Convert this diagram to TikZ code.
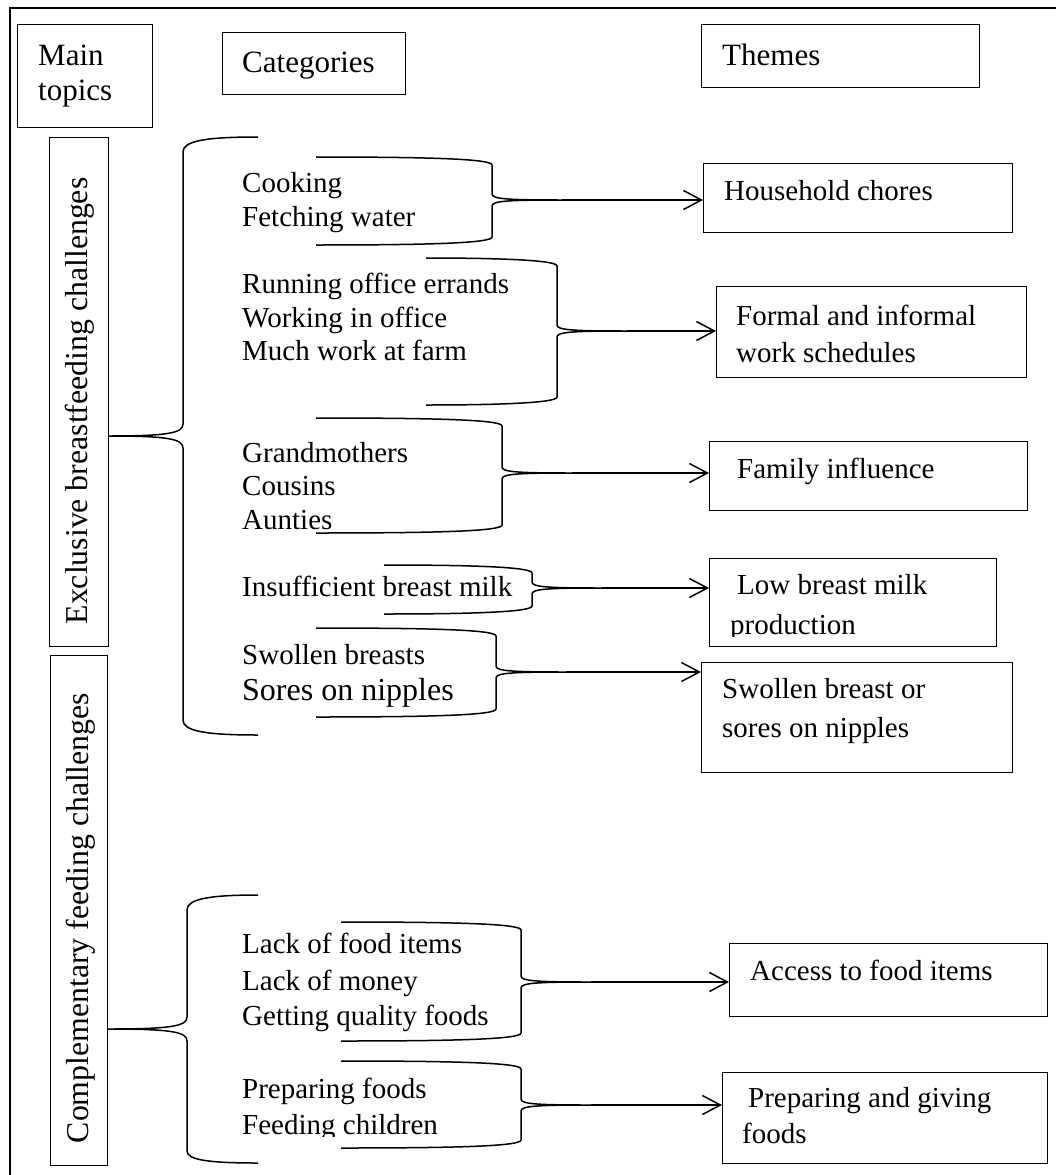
\documentclass[tikz,border=0pt]{standalone}
\usepackage{fontspec}
\setmainfont{Liberation Serif}
\usetikzlibrary{arrows.meta}
\newcommand{\fsz}[1]{\fontsize{#1}{#1}\selectfont}

% right-facing brace that gathers a list of categories into one point
% #1 name of the point, #2 left tips x, #3 spine x, #4 top y, #5 middle y, #6 bottom y
\newcommand{\subbrace}[6]{%
  \coordinate (#1) at (#3+70,#5);
  \draw[br] (#2,#4) .. controls (#3-60,#4) and (#3,#4+2) .. (#3,#4+8)
     -- (#3,#5-6) .. controls (#3,#5-1) and (#3+15,#5) .. (#1)
     .. controls (#3+15,#5) and (#3,#5+1) .. (#3,#5+6)
     -- (#3,#6-8) .. controls (#3,#6-2) and (#3-60,#6) .. (#2,#6);
}

\tikzset{
  frame/.style={line width=2.2pt},
  box/.style={draw, line width=1.2pt, inner sep=0pt, anchor=north west},
  br/.style={line width=1.5pt},
  arr/.style={line width=1.5pt, -{Straight Barb[length=18pt,width=19pt]}},
  lbl/.style={inner sep=0pt, anchor=base west, font=\fsz{29}},
  hdr/.style={inner sep=0pt, anchor=base west, font=\fsz{31}},
  side/.style={inner sep=0pt, rotate=90, font=\fsz{31.8}},
}

\begin{document}
\begin{tikzpicture}[x=1pt,y=-1pt]
\useasboundingbox (0,0) rectangle (1056,1175);

% outer frame (top and left edges)
\draw[frame] (10,1175) -- (10,8) -- (1056,8);

% column headers
\node[box, minimum width=135, minimum height=103] (mainbox) at (17,24) {};
\node[hdr] (main1) at (38,65) {Main};
\node[hdr] (main2) at (38,100) {topics};
\node[box, minimum width=183, minimum height=62] (catbox) at (222,32) {};
\node[hdr] (cattxt) at (242,72) {Categories};
\node[box, minimum width=278, minimum height=63] (thmbox) at (701,24) {};
\node[hdr] (thmtxt) at (722,65) {Themes};

% main topics (vertical boxes)
\node[box, minimum width=59, minimum height=509] (ex) at (49,137) {};
\node[side] (extxt) at (80,401) {Exclusive breastfeeding challenges};
\node[box, minimum width=57, minimum height=510] (cf) at (50,655) {};
\node[side] (cftxt) at (81,918) {Complementary feeding challenges};

% large braces from the main topics to their categories
\coordinate (m1) at (183,436);
\draw[br] (258,137) .. controls (205,137) and (183,141) .. (183,152)
   -- (183,424) .. controls (183,433) and (168,436) .. (ex.east |- m1)
   .. controls (168,436) and (183,439) .. (183,448)
   -- (183,720) .. controls (183,731) and (205,735) .. (258,735);
\coordinate (m2) at (187,1029);
\draw[br] (258,895) .. controls (209,895) and (187,899) .. (187,910)
   -- (187,1017) .. controls (187,1026) and (172,1029) .. (cf.east |- m2)
   .. controls (172,1029) and (187,1032) .. (187,1041)
   -- (187,1151) .. controls (187,1160) and (209,1163) .. (258,1163);

% categories
\node[lbl] (c1a) at (242,192) {Cooking};
\node[lbl] (c1b) at (242,226) {Fetching water};
\node[lbl] (c2a) at (242,293) {Running office errands};
\node[lbl] (c2b) at (242,327) {Working in office};
\node[lbl] (c2c) at (242,360) {Much work at farm};
\node[lbl] (c3a) at (242,462) {Grandmothers};
\node[lbl] (c3b) at (242,495) {Cousins};
\node[lbl] (c3c) at (242,529) {Aunties};
\node[lbl] (c4a) at (242,596) {Insufficient breast milk};
\node[lbl] (c5a) at (242,664) {Swollen breasts};
\node[lbl, font=\fsz{32}] (c5b) at (242,700) {Sores on nipples};
\node[lbl] (c6a) at (242,953) {Lack of food items};
\node[lbl] (c6b) at (242,990) {Lack of money};
\node[lbl] (c6c) at (242,1025) {Getting quality foods};
\node[lbl] (c7a) at (242,1098) {Preparing foods};
\begin{scope}
  \clip (230,1070) rectangle (600,1136);
  \node[lbl] (c7b) at (242,1134) {Feeding children};
\end{scope}

% themes
\node[box, minimum width=309, minimum height=69] (t1) at (703,163) {};
\node[lbl] (t1a) at (724,200) {Household chores};
\node[box, minimum width=310, minimum height=91] (t2) at (716,286) {};
\node[lbl] (t2a) at (736,325) {Formal and informal};
\node[lbl] (t2b) at (736,362) {work schedules};
\node[box, minimum width=318, minimum height=69] (t3) at (709,441) {};
\node[lbl] (t3a) at (737,478) {Family influence};
\node[box, minimum width=287, minimum height=88] (t4) at (709,558) {};
\node[lbl] (t4a) at (737,594) {Low breast milk};
\begin{scope}
  \clip (715,600) rectangle (990,636);
  \node[lbl] (t4b) at (730,634) {production};
\end{scope}
\node[box, minimum width=311, minimum height=110] (t5) at (701,662) {};
\node[lbl] (t5a) at (722,698) {Swollen breast or};
\node[lbl] (t5b) at (722,737) {sores on nipples};
\node[box, minimum width=318, minimum height=73] (t6) at (729,943) {};
\node[lbl] (t6a) at (750,980) {Access to food items};
\node[box, minimum width=325, minimum height=91] (t7) at (722,1072) {};
\node[lbl] (t7a) at (748,1107) {Preparing and giving};
\node[lbl] (t7b) at (742,1143) {foods};

% braces grouping the categories
\subbrace{b1}{316}{492}{157}{200}{245}
\subbrace{b2}{426}{557}{258}{331}{405}
\subbrace{b3}{316}{502}{418}{473}{533}
\subbrace{b4}{384}{532}{565}{588}{614}
\subbrace{b5}{316}{496}{628}{672}{717}
\subbrace{b6}{341}{521}{922}{982}{1041}
\subbrace{b7}{341}{521}{1061}{1105}{1148}

% arrows to the themes
\draw[arr] (b1) -- (b1 -| t1.west);
\draw[arr] (b2) -- (b2 -| t2.west);
\draw[arr] (b3) -- (b3 -| t3.west);
\draw[arr] (b4) -- (b4 -| t4.west);
\draw[arr] (b5) -- (b5 -| t5.west);
\draw[arr] (b6) -- (b6 -| t6.west);
\draw[arr] (b7) -- (b7 -| t7.west);
\end{tikzpicture}
\end{document}
